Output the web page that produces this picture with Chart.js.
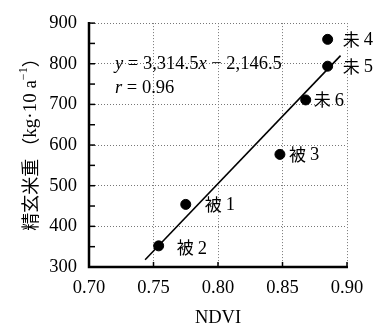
<!DOCTYPE html>
<html><head><meta charset="utf-8">
<script src="https://cdn.jsdelivr.net/npm/chart.js@4/dist/chart.umd.min.js"></script>
<style>html,body{margin:0;padding:0;background:#fff}#wrap{width:376px;height:331px}</style>
</head><body><div id="wrap"><canvas id="c" width="376" height="331"></canvas></div>
<script>
const pointLabels = ['被 1','被 2','被 3','未 4','未 5','未 6'];
const ndvi = [0.775, 0.754, 0.848, 0.885, 0.885, 0.868];
const yieldVals = [454, 352, 577, 860, 794, 711];
const regSlope = 3314.5;
const regIntercept = -2146.5;
const regRange = [0.7435, 0.895];
const xTicks = [0.70, 0.75, 0.80, 0.85, 0.90];
const yTicks = [300, 400, 500, 600, 700, 800, 900];
const labelOffsets = [[19,0],[18,2],[9,0],[15,0],[15,0],[8,0]];

const SERIF = "'Liberation Serif', 'DejaVu Serif', serif";
const CJK = "'Noto Sans CJK JP', 'Liberation Serif', serif";

const pts = ndvi.map((x,i)=>({x, y: yieldVals[i]}));
const linePts = regRange.map(x=>({x, y: regSlope*x + regIntercept}));

const isMajorY = v => yTicks.some(t => Math.abs(t - v) < 1e-6);

const deco = {
  id:'deco',
  afterDatasetsDraw(chart){
    const ctx = chart.ctx, xs = chart.scales.x, ys = chart.scales.y, a = chart.chartArea;
    ctx.save();
    ctx.strokeStyle='#000'; ctx.lineWidth=1.5;
    for(let v=300; v<=900; v+=50){
      const py = ys.getPixelForValue(v);
      ctx.beginPath(); ctx.moveTo(a.left, py); ctx.lineTo(a.left+6, py); ctx.stroke();
    }
    xTicks.forEach(v=>{
      const px = xs.getPixelForValue(v);
      ctx.beginPath(); ctx.moveTo(px, a.bottom); ctx.lineTo(px, a.bottom-5); ctx.stroke();
    });
    ctx.lineWidth=2.5;
    ctx.beginPath(); ctx.moveTo(a.left, a.top-1); ctx.lineTo(a.left, a.bottom); ctx.lineTo(a.right+1, a.bottom); ctx.stroke();
    ctx.fillStyle='#000'; ctx.textBaseline='middle'; ctx.textAlign='left';
    pointLabels.forEach((t,i)=>{
      const px = xs.getPixelForValue(ndvi[i]) + labelOffsets[i][0];
      const py = ys.getPixelForValue(yieldVals[i]) + labelOffsets[i][1];
      const parts = t.split(' ');
      ctx.font = '17px ' + CJK;
      ctx.fillText(parts[0], px, py);
      const w = ctx.measureText(parts[0]).width;
      ctx.font = '18.5px ' + SERIF;
      ctx.fillText(parts[1], px + w + 4, py+1);
    });
    const drawRich = (segs, x, y) => {
      segs.forEach(([txt, it])=>{
        ctx.font = (it ? 'italic ' : '') + '18.5px ' + SERIF;
        ctx.fillText(txt, x, y);
        x += ctx.measureText(txt).width;
      });
    };
    drawRich([['y',1],[' = 3,314.5',0],['x',1],[' − 2,146.5',0]], 115, 64);
    drawRich([['r',1],[' = 0.96',0]], 115, 88);
    ctx.textAlign='center';
    ctx.font = '18.5px ' + SERIF;
    ctx.fillText('NDVI', (a.left+a.right)/2, 318);
    ctx.translate(30, 140);
    ctx.rotate(-Math.PI/2);
    const t1 = '精玄米重', t2 = '（', t3 = 'kg·10 a', sup = '−1', t4 = '）';
    ctx.font = '18px ' + CJK; const w1 = ctx.measureText(t1).width, w2 = ctx.measureText(t2).width, w4 = ctx.measureText(t4).width;
    ctx.font = '19px ' + SERIF; const w3 = ctx.measureText(t3).width;
    ctx.font = '12px ' + SERIF; const ws = ctx.measureText(sup).width;
    const gap = 3;
    let x0 = -(w1+gap+w2+w3+ws+w4)/2;
    ctx.textAlign='left';
    ctx.font = '18px ' + CJK; ctx.fillText(t1, x0, 0); x0 += w1 + gap; ctx.fillText(t2, x0, 0); x0 += w2;
    ctx.font = '19px ' + SERIF; ctx.fillText(t3, x0, 1); x0 += w3;
    ctx.font = '12px ' + SERIF; ctx.fillText(sup, x0, -6); x0 += ws;
    ctx.font = '18px ' + CJK; ctx.fillText(t4, x0, 0);
    ctx.restore();
  }
};

new Chart(document.getElementById('c'), {
  type:'scatter',
  data:{datasets:[
    {data: linePts, showLine:true, borderColor:'#000', borderWidth:1.6, pointRadius:0, order:2},
    {data: pts, backgroundColor:'#000', borderColor:'#000', pointRadius:5, order:1}
  ]},
  options:{
    responsive:false, animation:false,
    layout:{padding:{top:13, right:29, left:0, bottom:0}},
    plugins:{legend:{display:false}, tooltip:{enabled:false}},
    scales:{
      x:{type:'linear', min:0.70, max:0.90,
        afterBuildTicks(s){ s.ticks = xTicks.map(v=>({value:v})); },
        afterFit(s){ s.height = 64; },
        ticks:{padding:10, color:'#000', font:{family:SERIF, size:18.5}, callback:v=>v.toFixed(2), maxRotation:0, autoSkip:false},
        grid:{color:'#777', lineWidth:1, drawTicks:false},
        border:{display:false, dash:[1,2]}
      },
      y:{type:'linear', min:300, max:900,
        afterBuildTicks(s){ const t=[]; for(let v=300; v<=900; v+=50) t.push({value:v}); s.ticks=t; },
        afterFit(s){ s.width = 89; },
        ticks:{padding:12, color:'#000', font:{family:SERIF, size:18.5}, callback:v=> isMajorY(v) ? String(v) : '', autoSkip:false},
        grid:{color:ctx=> isMajorY(ctx.tick.value) ? '#777' : 'rgba(0,0,0,0)', lineWidth:1, drawTicks:false},
        border:{display:false, dash:[1,2]}
      }
    }
  },
  plugins:[deco]
});
</script></body></html>
